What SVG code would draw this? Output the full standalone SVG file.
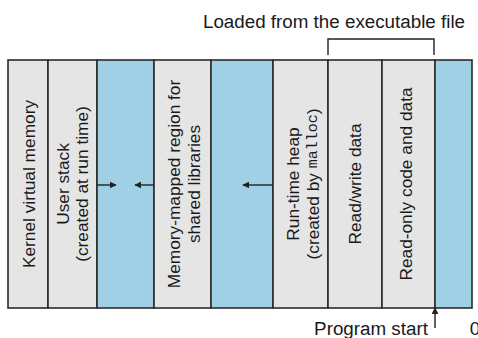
<svg xmlns="http://www.w3.org/2000/svg" width="478" height="338" viewBox="0 0 478 338">
<defs>
<marker id="ah" viewBox="0 0 10 10" refX="9" refY="5" markerWidth="7" markerHeight="7" orient="auto" markerUnits="userSpaceOnUse"><path d="M0,0 L10,5 L0,10 z" fill="#222"/></marker>
</defs>
<style>
.g{fill:#e5e5e5;stroke:#2b2b2b;stroke-width:1.6}
.b{fill:#9fd0e6;stroke:#2b2b2b;stroke-width:1.6}
.t{font-family:"Liberation Sans",Arial,sans-serif;font-size:17.3px;fill:#1a1a1a;text-anchor:middle;dominant-baseline:central}
.l{font-size:18.8px}
.m{font-family:"Liberation Mono","Courier New",monospace;font-size:15px}
.c{stroke:#222;stroke-width:1.4;fill:none}
</style>
<rect width="478" height="338" fill="#fff"/>
<text class="t l" x="334" y="21">Loaded from the executable file</text>
<g id="kernel"><rect class="g" x="8" y="60" width="40" height="248"/><text class="t" transform="translate(29,184) rotate(-90)">Kernel virtual memory</text></g>
<g id="stack"><rect class="g" x="48" y="60" width="49" height="248"/><text class="t" transform="translate(63,184) rotate(-90)">User stack</text><text class="t" transform="translate(82,184) rotate(-90)">(created at run time)</text></g>
<g id="free1"><rect class="b" x="97" y="60" width="57" height="248"/></g>
<g id="shared"><rect class="g" x="154" y="60" width="57" height="248"/><text class="t" transform="translate(174,184) rotate(-90)">Memory-mapped region for</text><text class="t" transform="translate(194,184) rotate(-90)">shared libraries</text></g>
<g id="free2"><rect class="b" x="211" y="60" width="62" height="248"/></g>
<g id="heap"><rect class="g" x="273" y="60" width="55" height="248"/><text class="t" transform="translate(293,184) rotate(-90)">Run-time heap</text><text class="t" transform="translate(313,184) rotate(-90)">(created by <tspan class="m">malloc</tspan>)</text></g>
<g id="rw"><rect class="g" x="328" y="60" width="54" height="248"/><text class="t" transform="translate(355,184) rotate(-90)">Read/write data</text></g>
<g id="ro"><rect class="g" x="382" y="60" width="53" height="248"/><text class="t" transform="translate(406,184) rotate(-90)">Read-only code and data</text></g>
<g id="free3"><rect class="b" x="435" y="60" width="37" height="248"/></g>
<g id="connectors">
<path class="c" d="M328,55 V39 H434 V55"/>
<line class="c" x1="97" y1="185" x2="116" y2="185" marker-end="url(#ah)"/>
<line class="c" x1="154" y1="185" x2="135" y2="185" marker-end="url(#ah)"/>
<line class="c" x1="273" y1="185" x2="243" y2="185" marker-end="url(#ah)"/>
<line class="c" x1="435" y1="328" x2="435" y2="308" marker-end="url(#ah)"/>
</g>
<text class="t l" x="371" y="328">Program start</text>
<text class="t l" x="475" y="328">0</text>
</svg>
